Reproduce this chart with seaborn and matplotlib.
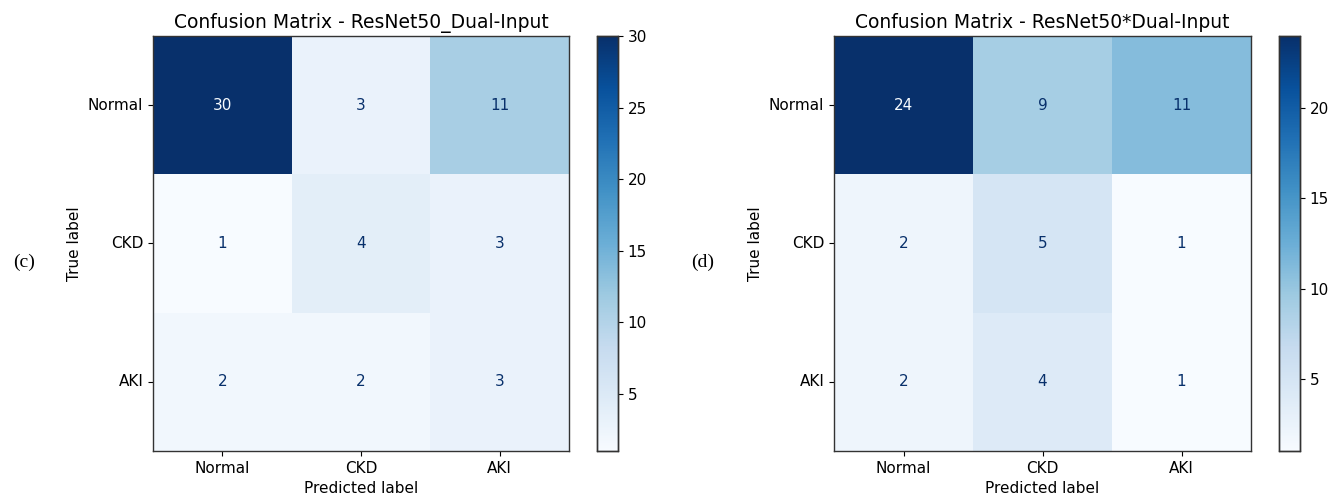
import numpy as np
import matplotlib
matplotlib.use("Agg")
import matplotlib.pyplot as plt
import seaborn as sns

labels = ["Normal", "CKD", "AKI"]
cm_c = [[30, 3, 11],
        [1, 4, 3],
        [2, 2, 3]]
cm_d = [[24, 9, 11],
        [2, 5, 1],
        [2, 4, 1]]
titles = ["Confusion Matrix - ResNet50_Dual-Input",
          "Confusion Matrix - ResNet50*Dual-Input"]
panel_tags = ["(c)", "(d)"]

plt.rcParams["font.family"] = ["DejaVu Sans"]
W, H = 1340, 503
fig = plt.figure(figsize=(W / 100, H / 100), dpi=100)

cmap = plt.get_cmap("Blues")

def px(x0, y0, x1, y1):
    return [x0 / W, 1 - y1 / H, (x1 - x0) / W, (y1 - y0) / H]

layouts = [
    (px(153, 36, 569, 451), px(597, 36, 618, 451), 24, 262),
    (px(834, 36, 1251, 451), px(1279, 36, 1300, 451), 703, 262),
]

for cm, title, tag, (axr, caxr, tx, ty) in zip([cm_c, cm_d], titles, panel_tags, layouts):
    arr = np.array(cm)
    ax = fig.add_axes(axr)
    cax = fig.add_axes(caxr)
    vmin, vmax = arr.min(), arr.max()
    sns.heatmap(arr, ax=ax, cbar_ax=cax, cmap=cmap, vmin=vmin, vmax=vmax,
                annot=False, square=False, xticklabels=labels, yticklabels=labels)
    thresh = (vmin + vmax) / 2
    for i in range(arr.shape[0]):
        for j in range(arr.shape[1]):
            col = cmap(0.0) if arr[i, j] > thresh else cmap(1.0)
            ax.text(j + 0.5, i + 0.5, str(arr[i, j]), ha="center", va="center",
                    color=col, fontsize=11)
    for s in ax.spines.values():
        s.set_visible(True)
        s.set_color("#333333")
        s.set_linewidth(1.0)
    for s in cax.spines.values():
        s.set_visible(True)
        s.set_color("#333333")
        s.set_linewidth(1.0)
    cax.tick_params(length=3.5, labelsize=11)
    cax.yaxis.set_major_locator(matplotlib.ticker.MultipleLocator(5))
    ax.tick_params(length=3.5, labelsize=11)
    ax.set_yticklabels(labels, rotation=0)
    ax.set_xticklabels(labels, rotation=0)
    ax.set_xlabel("Predicted label", fontsize=11)
    ax.set_ylabel("True label", fontsize=11)
    ax.set_title(title, fontsize=13.5)
    fig.text(tx / W, 1 - ty / H, tag, fontsize=14, family="Liberation Serif",
             ha="center", va="center")

fig.savefig("out.png", dpi=100)
